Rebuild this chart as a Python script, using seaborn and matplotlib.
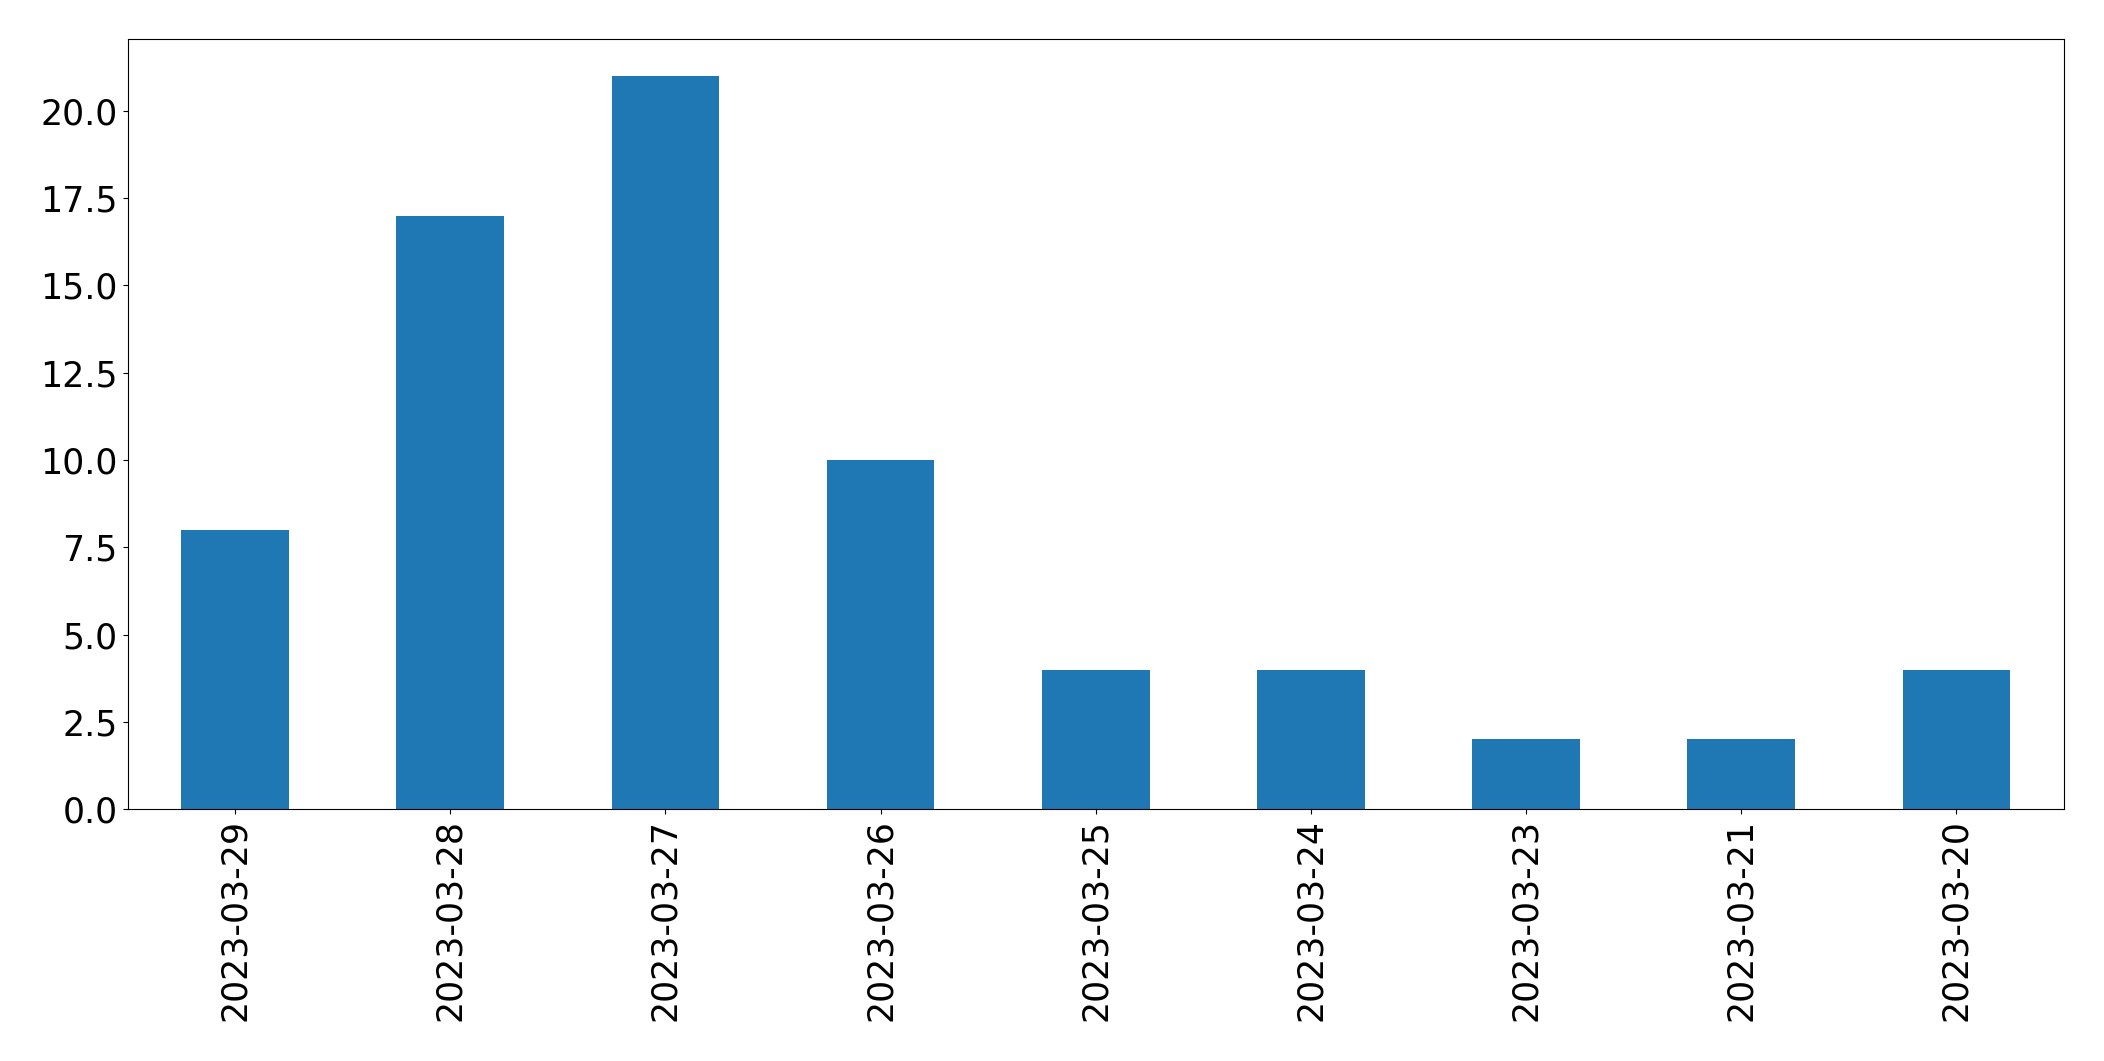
import matplotlib
matplotlib.use("Agg")
import matplotlib.pyplot as plt
import seaborn as sns
import pandas as pd

dates = ["2023-03-29", "2023-03-28", "2023-03-27", "2023-03-26", "2023-03-25",
         "2023-03-24", "2023-03-23", "2023-03-21", "2023-03-20"]
counts = [8, 17, 21, 10, 4, 4, 2, 2, 4]

df = pd.DataFrame({"date": dates, "count": counts})

fig = plt.figure(figsize=(21.04, 10.61), dpi=100)
ax = fig.add_axes([0.0606, 0.2372, 0.9204, 0.7258])
sns.barplot(data=df, x="date", y="count", order=dates, color="#1f77b4",
            saturation=1, width=0.5, ax=ax, errorbar=None)
ax.set_xlim(-0.5, len(dates) - 0.5)
ax.set_ylim(0, max(counts) * 1.05)
ax.set_yticks([0, 2.5, 5, 7.5, 10, 12.5, 15, 17.5, 20])
ax.set_yticklabels(["0.0", "2.5", "5.0", "7.5", "10.0", "12.5", "15.0", "17.5", "20.0"])
ax.set_xlabel("")
ax.set_ylabel("")
ax.tick_params(axis="both", labelsize=25)
plt.setp(ax.get_xticklabels(), rotation=90)
fig.savefig("out.png", dpi=100)
